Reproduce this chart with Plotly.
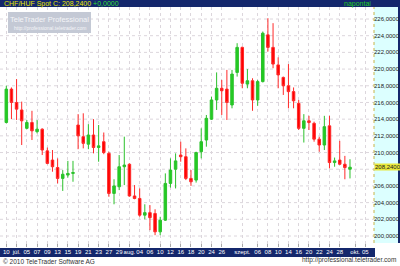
import plotly.graph_objects as go
import pandas as pd

# trading days (categories) – data from 2010-06-29 to 2010-09-30, axis continues to Oct 6
dates = [d.strftime("%Y-%m-%d") for d in pd.bdate_range("2010-06-29", "2010-10-06")]

opens = [213.6, 217.6, 216.0, 215.1, 212.9, 213.6, 212.5, 212.8, 210.2, 209.1,
         208.2, 206.9, 207.3, 207.5, 213.3, 211.9, 211.0, 212.1, 210.6, 211.3,
         209.9, 205.1, 205.9, 208.3, 208.6, 204.8, 204.5, 202.5, 202.8, 202.7,
         200.5, 201.9, 206.3, 208.0, 209.7, 209.5, 206.9, 206.7, 210.1, 211.5,
         214.0, 216.3, 217.7, 217.6, 215.7, 219.6, 222.6, 218.2, 218.6, 216.3,
         218.5, 224.1, 222.6, 220.5, 219.0, 218.0, 217.3, 215.9, 212.9, 213.8,
         213.5, 211.6, 210.9, 213.2, 208.8, 209.1, 208.6, 208.0]
highs = [218.0, 217.8, 218.8, 216.1, 213.9, 215.0, 213.9, 212.9, 210.6, 210.3,
         209.3, 207.9, 209.0, 209.0, 214.6, 214.7, 213.4, 214.0, 213.3, 212.4,
         210.1, 206.8, 209.7, 211.9, 208.7, 206.1, 205.7, 203.8, 203.7, 203.2,
         202.3, 207.5, 209.3, 209.9, 211.3, 210.5, 207.9, 210.1, 212.9, 214.5,
         216.7, 219.6, 218.7, 219.9, 219.9, 223.1, 222.7, 220.0, 218.9, 218.7,
         224.5, 226.1, 225.5, 221.4, 219.1, 220.6, 217.8, 216.3, 214.6, 214.4,
         213.7, 211.9, 214.4, 214.4, 209.4, 211.4, 209.6, 209.2]
lows = [213.5, 214.0, 213.9, 210.9, 212.8, 211.5, 212.3, 209.7, 208.6, 207.7,
        206.3, 205.4, 207.0, 206.5, 210.4, 210.5, 210.4, 209.9, 208.9, 209.8,
        204.7, 203.8, 205.5, 206.1, 204.7, 204.4, 202.3, 202.0, 200.7, 200.1,
        200.1, 201.8, 205.8, 205.7, 208.9, 206.7, 206.0, 206.4, 209.3, 210.7,
        213.9, 215.1, 214.5, 213.9, 215.3, 219.1, 217.7, 217.7, 215.0, 215.6,
        218.4, 222.1, 220.1, 217.7, 216.9, 215.3, 215.3, 212.7, 211.2, 212.7,
        211.3, 210.1, 210.3, 208.1, 208.3, 208.5, 206.8, 206.9]
closes = [217.6, 216.0, 215.2, 213.8, 213.6, 212.6, 212.8, 210.3, 208.7, 208.3,
          206.9, 207.4, 207.5, 207.6, 212.0, 211.1, 212.1, 210.6, 210.8, 210.0,
          205.1, 206.0, 208.3, 208.5, 204.8, 204.5, 202.5, 202.8, 202.2, 200.5,
          201.9, 206.3, 207.9, 209.0, 209.5, 206.9, 206.5, 210.0, 211.3, 214.1,
          216.3, 217.7, 217.4, 216.0, 219.4, 222.6, 218.3, 218.6, 216.3, 218.5,
          224.3, 222.6, 220.6, 219.3, 218.0, 217.3, 216.2, 212.9, 213.8, 213.6,
          211.6, 210.9, 213.1, 208.8, 209.0, 208.6, 208.2, 208.24]

tick_dates = ["2010-06-29", "2010-07-01", "2010-07-05", "2010-07-07", "2010-07-09",
              "2010-07-13", "2010-07-15", "2010-07-19", "2010-07-21", "2010-07-23",
              "2010-07-27", "2010-07-29", "2010-08-02", "2010-08-04", "2010-08-06",
              "2010-08-10", "2010-08-12", "2010-08-16", "2010-08-18", "2010-08-20",
              "2010-08-24", "2010-08-26", "2010-09-01", "2010-09-06", "2010-09-08",
              "2010-09-10", "2010-09-14", "2010-09-16", "2010-09-20", "2010-09-22",
              "2010-09-24", "2010-09-28", "2010-10-01", "2010-10-05"]
tick_labels = ["10", "júl.", "05", "07", "09", "13", "15", "19", "21", "23", "27", "29",
               "aug.", "04", "06", "10", "12", "16", "18", "20", "24", "26",
               "szept.", "06", "08", "10", "14", "16", "20", "22", "24", "28",
               "okt.", "05"]

# price axis labels (208 is covered by the last-price marker)
y_ticks = [200, 202, 204, 206, 210, 212, 214, 216, 218, 220, 222, 224, 226]
y_grid = [200, 202, 204, 206, 208, 210, 212, 214, 216, 218, 220, 222, 224, 226]

last_price = closes[-1]
NAVY = "#14276c"
FONT = "Liberation Sans, Arial, sans-serif"

fig = go.Figure()
fig.add_trace(go.Candlestick(
    x=dates[:len(opens)], open=opens, high=highs, low=lows, close=closes,
    increasing=dict(line=dict(color="#2cc12c", width=1), fillcolor="#22cc22"),
    decreasing=dict(line=dict(color="#ff2a2a", width=1), fillcolor="#ff0000"),
    whiskerwidth=0, showlegend=False, hoverinfo="skip"))

W, H = 400, 266
L, R, T, B = 0, 26, 7, 19
pw, ph = W - L - R, H - T - B

def px(xp):
    return (xp - L) / pw

def py(yp):
    return (H - B - yp) / ph

shapes = [
    dict(type="rect", xref="paper", yref="paper", x0=px(0), x1=px(400), y0=py(7), y1=py(0),
         fillcolor=NAVY, line=dict(width=0), layer="above"),
    dict(type="rect", xref="paper", yref="paper", x0=px(374), x1=px(398), y0=py(243), y1=py(7),
         fillcolor="#dcffff", line=dict(width=0), layer="below"),
    dict(type="rect", xref="paper", yref="paper", x0=px(398), x1=px(400), y0=py(243), y1=py(0),
         fillcolor=NAVY, line=dict(width=0), layer="below"),
    dict(type="rect", xref="paper", yref="paper", x0=px(0), x1=px(375), y0=py(257), y1=py(248),
         fillcolor=NAVY, line=dict(width=0), layer="below"),
    dict(type="line", xref="paper", yref="paper", x0=1, x1=1, y0=py(243), y1=py(7),
         line=dict(color="#c8b44a", width=1, dash="dot")),
    dict(type="rect", xref="paper", yref="paper", x0=px(8), x1=px(91), y0=py(33), y1=py(12),
         fillcolor="#c4c9d5", line=dict(width=0), layer="above"),
]
for g in y_grid:
    shapes.append(dict(type="line", xref="paper", yref="y", x0=0, x1=1, y0=g, y1=g,
                       line=dict(color="#dcd6dc", width=1, dash="dot"), layer="below"))

annotations = [
    dict(xref="paper", yref="paper", x=px(2), y=py(3.6), xanchor="left", yanchor="middle",
         text="<span style='color:#e6e600'>CHF/HUF Spot C: 208,2400</span> "
              "<span style='color:#33dd33'>+0,0000</span>",
         showarrow=False, font=dict(size=7, family=FONT)),
    dict(xref="paper", yref="paper", x=px(373), y=py(3.6), xanchor="right", yanchor="middle",
         text="napontai", showarrow=False, font=dict(size=7, color="#22cc22", family=FONT)),
    dict(xref="paper", yref="paper", x=px(49.5), y=py(19.5), xanchor="center", yanchor="middle",
         text="TeleTrader Professional", showarrow=False,
         font=dict(size=7.5, color="#f4f5f8", family=FONT)),
    dict(xref="paper", yref="paper", x=px(50), y=py(27.5), xanchor="center", yanchor="middle",
         text="http://professional.teletrader.com", showarrow=False,
         font=dict(size=5, color="#f4f5f8", family=FONT)),
    dict(xref="paper", yref="paper", x=px(1), y=py(261), xanchor="left", yanchor="middle",
         text="© 2010 TeleTrader Software AG", showarrow=False,
         font=dict(size=6.5, color="#333333", family=FONT)),
    dict(xref="paper", yref="paper", x=px(398), y=py(260), xanchor="right", yanchor="middle",
         text="http://professional.teletrader.com", showarrow=False,
         font=dict(size=6.5, color="#333333", family=FONT)),
    dict(xref="paper", yref="y", x=px(374.5), y=last_price, xanchor="left", yanchor="middle",
         text="208,2400", showarrow=False, bgcolor="#e8e83a", borderpad=0,
         font=dict(size=6, color="#202020", family=FONT)),
]

ppu = (236 - 19) / 26.0
y_top = 226 + (19 - T) / ppu
y_bot = 200 - ((H - B) - 236) / ppu

fig.update_layout(
    width=W, height=H, margin=dict(l=L, r=R, t=T, b=B, pad=0),
    paper_bgcolor="white", plot_bgcolor="white",
    separators=", ",
    shapes=shapes, annotations=annotations,
    font=dict(family=FONT, size=7),
    xaxis=dict(type="category", categoryorder="array", categoryarray=dates,
               range=[-1.23, 71.68], rangeslider=dict(visible=False),
               tickmode="array", tickvals=tick_dates, ticktext=tick_labels,
               tickangle=0, automargin=False,
               tickfont=dict(size=6, color="white", family=FONT),
               ticks="inside", ticklen=3, tickcolor="#a8a8a8",
               showgrid=True, gridcolor="#dcd6dc", griddash="dot", gridwidth=1,
               showline=False, zeroline=False, fixedrange=True),
    yaxis=dict(side="right", range=[y_bot, y_top], tickmode="array", tickvals=y_ticks,
               tickformat=".4f", tickfont=dict(size=6, color="#202020", family=FONT),
               ticks="", showgrid=False, automargin=False, ticklabelstandoff=-1,
               showline=False, zeroline=False, fixedrange=True),
)

fig.write_html("out.html")
